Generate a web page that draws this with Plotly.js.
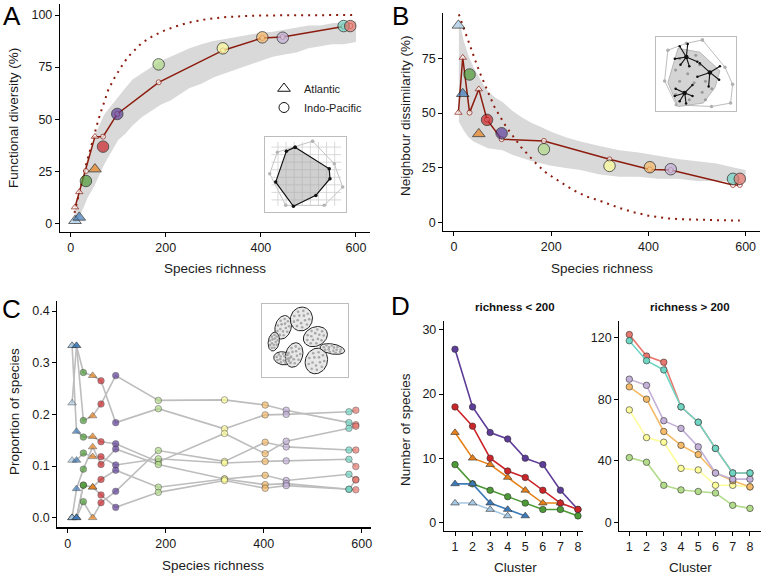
<!DOCTYPE html>
<html><head><meta charset="utf-8">
<script src="https://cdn.plot.ly/plotly-3.0.1.min.js"></script>
<style>html,body{margin:0;padding:0;background:#fff}#chart{width:765px;height:575px}</style>
</head><body><div id="chart"></div>
<script>
// ---------------- DATA ----------------
const richness = [9, 18, 32, 51, 68, 98, 185, 320, 403, 446, 574, 588];
const ocean = ['Atlantic','Atlantic','Indo-Pacific','Atlantic','Indo-Pacific','Indo-Pacific','Indo-Pacific','Indo-Pacific','Indo-Pacific','Indo-Pacific','Indo-Pacific','Indo-Pacific'];
const regionColors = ['#a6c8e3','#3d7ab8','#4d9a36','#e8801a','#cc2529','#5e3d99','#b2db8a','#fdfd9b','#f6bb68','#c3b1d9','#70d6c4','#e8776d'];

// Panel A: functional diversity (%)
const fdObserved = [1.2, 2.8, 20.3, 26, 36.8, 52.5, 76.3, 84, 89.3, 89.1, 94.7, 94.7];
const fdExpected = [7.7, 15, 25.1, 41.6, 41.6, 52.5, 67.7, 83, 89, 89.5, 94.5, 94.8];
const fdBandRich = [8, 12, 16, 20, 25, 30, 35, 40, 50, 60, 70, 80, 90, 100, 115, 130, 150, 170, 190, 210, 230, 250, 275, 300, 325, 350, 375, 400, 425, 450, 475, 500, 525, 550, 575, 600];
const fdBandLow  = [0, 0.5, 2, 4, 6, 9, 12, 14, 18, 23, 28, 32, 36, 40, 43, 47, 51, 54, 57, 59, 62, 65, 67, 70, 72, 74, 76, 78, 80, 81, 82, 84, 85, 86, 86, 87];
const fdBandHigh = [6, 10, 14, 18, 23, 27, 31, 35, 42, 47, 52, 55, 58, 61, 65, 69, 72, 75, 78, 80, 82, 84, 86, 87.5, 88.5, 89.5, 90.5, 91.5, 92, 93, 94, 95, 95, 96, 96.5, 97];
const fdMaxRich = [8, 12, 18, 25, 31, 37, 44, 51, 58, 65, 72, 79, 90, 100, 110, 121, 135, 149, 170, 191, 220, 247, 280, 318, 350, 388, 450, 500, 550, 600];
const fdMax     = [5, 9, 14.5, 21, 27, 32, 38, 44, 49.5, 54.5, 59.5, 64, 69, 73, 76.5, 80, 83.5, 86.5, 89.5, 92, 94.5, 96.3, 97.8, 98.9, 99.3, 99.7, 99.9, 100, 100, 100];

// Panel B: neighbour dissimilarity (%)
const ndObserved = [90, 58.8, 67.6, 40.5, 46.9, 40.8, 33.5, 25.9, 25.3, 24.4, 20, 20];
const ndExpected = [50.2, 75.3, 50.2, 60.9, 47, 38.1, 37.3, 28.9, 24.3, 24, 17.2, 17.2];
const ndBandRich = [10, 15, 20, 30, 40, 50, 60, 70, 85, 100, 120, 140, 160, 180, 200, 230, 260, 300, 340, 380, 420, 460, 500, 540, 580, 600];
const ndBandLow  = [46, 44, 42, 39, 37, 36, 35, 34, 33.5, 33, 31, 29.5, 28, 27, 26, 25, 24, 22, 21, 21, 20, 20, 19, 19, 18.5, 18.5];
const ndBandHigh = [93, 88, 83, 76, 71, 67, 63, 60, 57, 55, 51, 48, 45.5, 43.5, 41.5, 39, 37, 35, 33, 32, 30.5, 29, 28, 27, 25, 24];
const ndMaxRich = [10, 18, 26, 33, 40, 47, 54, 64, 74, 84, 95, 108, 122, 138, 156, 173, 191, 218, 245, 272, 300, 342, 369, 400, 438, 470, 506, 550, 588];
const ndMax     = [95, 90, 85, 80, 75.8, 72, 68, 62.5, 57.5, 52.5, 48.4, 43.5, 39.3, 34.5, 30.1, 26, 22.5, 18.5, 14.9, 12, 10, 6.6, 4.8, 3.2, 2, 1.6, 1.3, 1.1, 1.0];

// Panel C: proportion of species per cluster (one array per cluster, values per region)
const propCluster1 = [0.333, 0.333, 0.188, 0.197, 0.220, 0.275, 0.227, 0.228, 0.218, 0.208, 0.184, 0.180];
const propCluster2 = [0.222, 0.333, 0.281, 0.275, 0.265, 0.184, 0.211, 0.172, 0.199, 0.200, 0.205, 0.208];
const propCluster3 = [0.000, 0.000, 0.031, 0.000, 0.029, 0.051, 0.130, 0.109, 0.146, 0.137, 0.131, 0.131];
const propCluster4 = [0.333, 0.167, 0.156, 0.157, 0.147, 0.143, 0.108, 0.163, 0.124, 0.148, 0.173, 0.177];
const propCluster5 = [0.111, 0.111, 0.125, 0.118, 0.118, 0.102, 0.114, 0.106, 0.109, 0.110, 0.113, 0.099];
const propCluster6 = [0.000, 0.056, 0.094, 0.137, 0.103, 0.133, 0.103, 0.075, 0.082, 0.072, 0.084, 0.074];
const propCluster7 = [0.000, 0.000, 0.063, 0.059, 0.074, 0.092, 0.059, 0.075, 0.064, 0.066, 0.055, 0.073];
const propCluster8 = [0.000, 0.000, 0.063, 0.059, 0.044, 0.020, 0.049, 0.072, 0.057, 0.062, 0.055, 0.054];

// Panel D: number of species per cluster rank
const clusterRank = [1, 2, 3, 4, 5, 6, 7, 8];
const countsLB = [3, 3, 2, 1];
const countsB  = [6, 6, 3, 2, 1];
const countsG  = [9, 6, 5, 4, 3, 2, 2, 1];
const countsO  = [14, 10, 9, 7, 5, 3, 3];
const countsR  = [18, 15, 10, 8, 7, 5, 3, 2];
const countsP  = [27, 18, 14, 13, 10, 9, 5, 2];
const countsLG = [42, 39, 24, 21, 20, 19, 11, 9];
const countsY  = [73, 55, 52, 35, 34, 24, 24, 23];
const countsLO = [88, 80, 59, 50, 44, 32, 27, 23];
const countsL  = [93, 89, 66, 61, 49, 32, 28, 28];
const countsT  = [118, 105, 99, 75, 65, 48, 32, 32];
const countsS  = [122, 108, 104, 75, 65, 48, 32, 32];

// Inset schematics (unit-box coordinates)
const insA_hullU = [0.372, 0.793, 0.802, 0.628, 0.351, 0.132, 0.264, 0.372];
const insA_hullV = [0.859, 0.573, 0.441, 0.220, 0.075, 0.396, 0.806, 0.859];
const insA_outU = [0.587, 0.855, 0.959, 0.731, 0.256, 0.058, 0.153, 0.587];
const insA_outV = [0.938, 0.639, 0.330, 0.088, 0.088, 0.506, 0.793, 0.938];
const insA_grid = [0.16, 0.26, 0.36, 0.46, 0.56, 0.66, 0.76, 0.86];
const insB_outU = [0.583, 0.863, 0.958, 0.933, 0.696, 0.258, 0.113, 0.154, 0.383, 0.583];
const insB_outV = [0.954, 0.587, 0.358, 0.106, 0.060, 0.083, 0.404, 0.817, 0.908, 0.954];
const insB_inU = [0.279, 0.550, 0.800, 0.738, 0.592, 0.279, 0.154, 0.279];
const insB_inV = [0.840, 0.790, 0.540, 0.312, 0.106, 0.060, 0.380, 0.840];
const insB_dotU = [0.25, 0.40, 0.55, 0.30, 0.48, 0.62, 0.25, 0.42, 0.58, 0.70, 0.30, 0.50, 0.62];
const insB_dotV = [0.55, 0.50, 0.62, 0.40, 0.38, 0.40, 0.22, 0.15, 0.25, 0.30, 0.70, 0.75, 0.15];
const insB_starC = [[0.383, 0.725], [0.675, 0.518], [0.363, 0.243]];
const insB_starEnds = [
  [[0.30, 0.87], [0.40, 0.90], [0.24, 0.70], [0.52, 0.66], [0.42, 0.60], [0.31, 0.62]],
  [[0.55, 0.64], [0.80, 0.60], [0.52, 0.46], [0.66, 0.33], [0.79, 0.42]],
  [[0.25, 0.30], [0.46, 0.35], [0.30, 0.13], [0.46, 0.20], [0.38, 0.10], [0.24, 0.20]]
];
// ellipses for panel C inset: centre (px from box top-left), half-axes (px), angle (deg)
const insC_cx = [21.7, 40, 54, 12.3, 21.7, 32.7, 55, 71];
const insC_cy = [23, 14.7, 32.3, 37.3, 54, 50.7, 56.7, 44.7];
const insC_rx = [8, 11, 12.5, 5.5, 9.5, 8.5, 11, 12.5];
const insC_ry = [12, 12, 9.5, 9.5, 6.5, 12.5, 13, 5];
const insC_ang = [15, 20, -25, 10, 10, 15, 20, 10];

// ---------------- HELPERS ----------------
const W = 765, H = 575;
const FONT = 'Liberation Sans, Arial, Helvetica, sans-serif';
const DARKRED = '#8b1c0e';
const px = v => v / W;
const py = v => 1 - v / H;
const symbols = ocean.map(o => o === 'Atlantic' ? 'triangle-up' : 'circle');

function baseAxis(o) {
  return Object.assign({
    showline: true, linecolor: '#000', linewidth: 1.2,
    ticks: 'outside', ticklen: 4, tickwidth: 1, tickcolor: '#000',
    showgrid: false, zeroline: false, fixedrange: true,
    tickfont: {family: FONT, size: 12.5, color: '#1a1a1a'}
  }, o);
}
function insetAxis(o) {
  return Object.assign({
    showline: true, mirror: true, linecolor: '#bdbdbd', linewidth: 1,
    ticks: '', showticklabels: false, showgrid: false, zeroline: false,
    range: [0, 1], fixedrange: true
  }, o);
}

const traces = [];

// ---------- Panel A ----------
traces.push({x: fdBandRich, y: fdBandLow, mode: 'lines', line: {width: 0, color: '#d9d9d9'}, xaxis: 'x', yaxis: 'y', showlegend: false, hoverinfo: 'skip'});
traces.push({x: fdBandRich, y: fdBandHigh, mode: 'lines', fill: 'tonexty', fillcolor: '#d9d9d9', line: {width: 0, color: '#d9d9d9'}, xaxis: 'x', yaxis: 'y', showlegend: false, hoverinfo: 'skip'});
traces.push({x: fdMaxRich, y: fdMax, mode: 'lines', line: {color: DARKRED, width: 2, dash: '2px,5px'}, xaxis: 'x', yaxis: 'y', showlegend: false});
traces.push({x: richness, y: fdExpected, mode: 'lines+markers', line: {color: DARKRED, width: 1.5},
  marker: {symbol: symbols, color: '#fff', size: symbols.map(s => s === 'circle' ? 5 : 6.5), line: {color: DARKRED, width: 1}},
  xaxis: 'x', yaxis: 'y', showlegend: false});
traces.push({x: richness, y: fdObserved, mode: 'markers',
  marker: {symbol: symbols, color: regionColors, size: symbols.map(s => s === 'circle' ? 11.5 : 11), line: {color: '#111', width: 0.9}},
  xaxis: 'x', yaxis: 'y', showlegend: false});
traces.push({x: [null], y: [null], mode: 'markers', name: 'Atlantic', marker: {symbol: 'triangle-up', size: 11, color: '#fff', line: {color: '#111', width: 1}}, xaxis: 'x', yaxis: 'y', showlegend: true});
traces.push({x: [null], y: [null], mode: 'markers', name: 'Indo-Pacific', marker: {symbol: 'circle', size: 10, color: '#fff', line: {color: '#111', width: 1}}, xaxis: 'x', yaxis: 'y', showlegend: true});

// ---------- Panel B ----------
traces.push({x: ndBandRich, y: ndBandLow, mode: 'lines', line: {width: 0, color: '#d9d9d9'}, xaxis: 'x2', yaxis: 'y2', showlegend: false, hoverinfo: 'skip'});
traces.push({x: ndBandRich, y: ndBandHigh, mode: 'lines', fill: 'tonexty', fillcolor: '#d9d9d9', line: {width: 0, color: '#d9d9d9'}, xaxis: 'x2', yaxis: 'y2', showlegend: false, hoverinfo: 'skip'});
traces.push({x: ndMaxRich, y: ndMax, mode: 'lines', line: {color: DARKRED, width: 2, dash: '2px,5px'}, xaxis: 'x2', yaxis: 'y2', showlegend: false});
traces.push({x: richness, y: ndExpected, mode: 'lines+markers', line: {color: DARKRED, width: 1.5},
  marker: {symbol: symbols, color: '#fff', size: symbols.map(s => s === 'circle' ? 5 : 6.5), line: {color: DARKRED, width: 1}},
  xaxis: 'x2', yaxis: 'y2', showlegend: false});
traces.push({x: richness, y: ndObserved, mode: 'markers',
  marker: {symbol: symbols, color: regionColors, size: symbols.map(s => s === 'circle' ? 11.5 : 11), line: {color: '#111', width: 0.9}},
  xaxis: 'x2', yaxis: 'y2', showlegend: false});

// ---------- Panel C ----------
const propClusters = [propCluster1, propCluster2, propCluster3, propCluster4, propCluster5, propCluster6, propCluster7, propCluster8];
propClusters.forEach(p => traces.push({x: richness, y: p, mode: 'lines', line: {color: '#bdbdbd', width: 1.6}, xaxis: 'x3', yaxis: 'y3', showlegend: false}));
{
  const xs = [], ys = [], cs = [], ss = [], sz = [];
  richness.forEach((r, i) => propClusters.forEach(p => {
    xs.push(r); ys.push(p[i]); cs.push(regionColors[i]); ss.push(symbols[i]); sz.push(symbols[i] === 'circle' ? 6.5 : 7.5);
  }));
  traces.push({x: xs, y: ys, mode: 'markers', marker: {symbol: ss, color: cs, size: sz, line: {color: '#333', width: 0.6}}, xaxis: 'x3', yaxis: 'y3', showlegend: false});
}

// ---------- Panel D ----------
const leftSets = [[countsP, 5], [countsO, 3], [countsR, 4], [countsG, 2], [countsLB, 0], [countsB, 1]];
const rightSets = [[countsLG, 6], [countsY, 7], [countsLO, 8], [countsL, 9], [countsS, 11], [countsT, 10]];
leftSets.forEach(([c, i]) => traces.push({x: clusterRank.slice(0, c.length), y: c, mode: 'lines+markers',
  line: {color: regionColors[i], width: 1.6},
  marker: {symbol: symbols[i], color: regionColors[i], size: symbols[i] === 'circle' ? 6.5 : 7.5, line: {color: '#333', width: 0.6}},
  xaxis: 'x4', yaxis: 'y4', showlegend: false}));
rightSets.forEach(([c, i]) => traces.push({x: clusterRank.slice(0, c.length), y: c, mode: 'lines+markers',
  line: {color: regionColors[i], width: 1.6},
  marker: {symbol: symbols[i], color: regionColors[i], size: 6.5, line: {color: '#333', width: 0.6}},
  xaxis: 'x5', yaxis: 'y5', showlegend: false}));

// ---------- Insets ----------
{
  const gx = [], gy = [];
  insA_grid.forEach(g => { gx.push(g, g, null); gy.push(0.08, 0.93, null); gx.push(0.08, 0.94, null); gy.push(g, g, null); });
  traces.push({x: gx, y: gy, mode: 'lines', line: {color: '#cfcfcf', width: 0.8}, xaxis: 'x6', yaxis: 'y6', showlegend: false, hoverinfo: 'skip'});
}
traces.push({x: insA_outU, y: insA_outV, mode: 'lines+markers', line: {color: '#c4c4c4', width: 1}, marker: {color: '#b5b5b5', size: 3.5}, xaxis: 'x6', yaxis: 'y6', showlegend: false});
traces.push({x: insA_hullU, y: insA_hullV, mode: 'lines+markers', fill: 'toself', fillcolor: 'rgba(170,170,170,0.55)', line: {color: '#111', width: 1.2}, marker: {color: '#111', size: 3.5}, xaxis: 'x6', yaxis: 'y6', showlegend: false});

traces.push({x: insB_outU, y: insB_outV, mode: 'lines+markers', line: {color: '#bdbdbd', width: 1}, marker: {color: '#b0b0b0', size: 3.5}, xaxis: 'x7', yaxis: 'y7', showlegend: false});
traces.push({x: insB_inU, y: insB_inV, mode: 'lines', fill: 'toself', fillcolor: '#d4d4d4', line: {color: '#aaa', width: 0.8}, xaxis: 'x7', yaxis: 'y7', showlegend: false});
traces.push({x: insB_dotU, y: insB_dotV, mode: 'markers', marker: {color: '#9a9a9a', size: 3}, xaxis: 'x7', yaxis: 'y7', showlegend: false});
{
  const sx = [], sy = [], ex = [], ey = [];
  insB_starC.forEach((c, k) => insB_starEnds[k].forEach(e => { sx.push(c[0], e[0], null); sy.push(c[1], e[1], null); ex.push(e[0]); ey.push(e[1]); }));
  traces.push({x: sx, y: sy, mode: 'lines', line: {color: '#111', width: 1.1}, xaxis: 'x7', yaxis: 'y7', showlegend: false});
  traces.push({x: ex, y: ey, mode: 'markers', marker: {color: '#111', size: 2.5}, xaxis: 'x7', yaxis: 'y7', showlegend: false});
  traces.push({x: insB_starC.map(c => c[0]), y: insB_starC.map(c => c[1]), mode: 'markers', marker: {color: '#111', size: 4.5}, xaxis: 'x7', yaxis: 'y7', showlegend: false});
}

{
  const BW = 87, BH = 73;
  const dx_ = [], dy_ = [];
  insC_cx.forEach((cx, k) => {
    const a = insC_ang[k] * Math.PI / 180, xs = [], ys = [];
    const toBox = (ux, uy) => {
      const X = cx + ux * Math.cos(a) - uy * Math.sin(a);
      const Y = insC_cy[k] + ux * Math.sin(a) + uy * Math.cos(a);
      return [X / BW, 1 - Y / BH];
    };
    for (let t = 0; t <= 60; t++) {
      const th = 2 * Math.PI * t / 60;
      const p = toBox(insC_rx[k] * Math.cos(th), insC_ry[k] * Math.sin(th));
      xs.push(p[0]); ys.push(p[1]);
    }
    traces.push({x: xs, y: ys, mode: 'lines', fill: 'toself', fillcolor: 'rgba(228,228,228,0.85)', line: {color: '#222', width: 1}, xaxis: 'x8', yaxis: 'y8', showlegend: false, hoverinfo: 'skip'});
    [0.35, 0.7].forEach((rr, j) => {
      const n = j === 0 ? 5 : 9;
      for (let q = 0; q < n; q++) {
        const th = 2 * Math.PI * q / n + j * 0.4;
        const p = toBox(rr * insC_rx[k] * Math.cos(th), rr * insC_ry[k] * Math.sin(th));
        dx_.push(p[0]); dy_.push(p[1]);
      }
    });
  });
  traces.push({x: dx_, y: dy_, mode: 'markers', marker: {color: '#a8a8a8', size: 2.6}, xaxis: 'x8', yaxis: 'y8', showlegend: false, hoverinfo: 'skip'});
}

// ---------------- LAYOUT ----------------
const ann = (text, x, y, o) => Object.assign({text, x: px(x), y: py(y), xref: 'paper', yref: 'paper', xanchor: 'center', yanchor: 'middle', showarrow: false, font: {family: FONT, size: 13.5, color: '#1a1a1a'}}, o || {});
const LET = {family: FONT, size: 26, color: '#000'};

const layout = {
  width: W, height: H, margin: {l: 0, r: 0, t: 0, b: 0},
  paper_bgcolor: '#fff', plot_bgcolor: 'rgba(0,0,0,0)',
  font: {family: FONT},
  showlegend: true,
  legend: {x: px(264), y: py(74), xanchor: 'left', yanchor: 'top', traceorder: 'normal', bgcolor: 'rgba(0,0,0,0)', font: {family: FONT, size: 11, color: '#222'}, tracegroupgap: 0},
  xaxis: baseAxis({domain: [px(60), px(370)], range: [-22.5, 629.5], tickvals: [0, 200, 400, 600], anchor: 'y'}),
  yaxis: baseAxis({domain: [py(232), py(4)], range: [-4.2, 105.3], tickvals: [0, 25, 50, 75, 100], anchor: 'x'}),
  xaxis2: baseAxis({domain: [px(443.3), px(760)], range: [-22, 629.6], tickvals: [0, 200, 400, 600], anchor: 'y2'}),
  yaxis2: baseAxis({domain: [py(230.7), py(13.3)], range: [-3.65, 95.5], tickvals: [0, 25, 50, 75], anchor: 'x2'}),
  xaxis3: baseAxis({domain: [px(57.3), px(371)], range: [-21.2, 619], tickvals: [0, 200, 400, 600], anchor: 'y3'}),
  yaxis3: baseAxis({domain: [py(527.3), py(300.7)], range: [-0.0186, 0.42], tickvals: [0, 0.1, 0.2, 0.3, 0.4], tickformat: '.1f', anchor: 'x3'}),
  xaxis4: baseAxis({domain: [px(444), px(582.7)], range: [0.374, 8.27], tickvals: clusterRank, anchor: 'y4'}),
  yaxis4: baseAxis({domain: [py(530.7), py(320.7)], range: [-1.31, 31.45], tickvals: [0, 10, 20, 30], anchor: 'x4'}),
  xaxis5: baseAxis({domain: [px(619.3), px(761)], range: [0.42, 8.64], tickvals: clusterRank, anchor: 'y5'}),
  yaxis5: baseAxis({domain: [py(530.7), py(320.7)], range: [-5.5, 131], tickvals: [0, 40, 80, 120], anchor: 'x5'}),
  xaxis6: insetAxis({domain: [px(265), px(346)], anchor: 'y6'}),
  yaxis6: insetAxis({domain: [py(212), py(136.5)], anchor: 'x6'}),
  xaxis7: insetAxis({domain: [px(655.5), px(736)], anchor: 'y7'}),
  yaxis7: insetAxis({domain: [py(111), py(36.5)], anchor: 'x7'}),
  xaxis8: insetAxis({domain: [px(261.5), px(348.3)], anchor: 'y8'}),
  yaxis8: insetAxis({domain: [py(377.3), py(304.3)], anchor: 'x8'}),
  annotations: [
    ann('A', 12, 16, {font: LET}),
    ann('B', 400, 16, {font: LET}),
    ann('C', 11, 309, {font: LET}),
    ann('D', 400, 306, {font: LET}),
    ann('Functional diversity (%)', 14, 118, {textangle: -90}),
    ann('Species richness', 215, 268),
    ann('Neighbour dissimilarity (%)', 405, 116, {textangle: -90}),
    ann('Species richness', 602, 268),
    ann('Proportion of species', 14, 412, {textangle: -90}),
    ann('Species richness', 213, 565),
    ann('Number of species', 405, 430, {textangle: -90}),
    ann('Cluster', 515, 567),
    ann('Cluster', 690, 567),
    ann('<b>richness &lt; 200</b>', 515, 307, {font: {family: FONT, size: 11.5, color: '#111'}}),
    ann('<b>richness &gt; 200</b>', 690, 307, {font: {family: FONT, size: 11.5, color: '#111'}})
  ]
};

Plotly.newPlot('chart', traces, layout, {staticPlot: true, displayModeBar: false});
</script>
</body></html>
